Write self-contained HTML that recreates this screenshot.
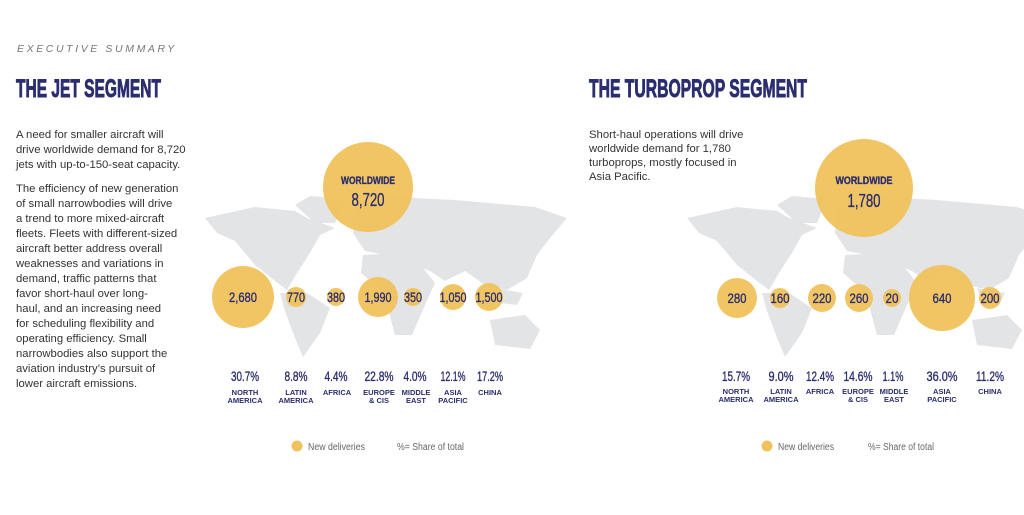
<!DOCTYPE html>
<html><head><meta charset="utf-8"><style>
html,body{margin:0;padding:0;background:#fff;width:1024px;height:515px;overflow:hidden}
svg{display:block}
.h{font-family:"Liberation Sans",sans-serif;font-weight:bold;fill:#2b2d6e;stroke:#2b2d6e;stroke-width:0.9}
.b{font-family:"Liberation Sans",sans-serif;font-size:11.3px;fill:#333}
.n{font-family:"Liberation Sans",sans-serif;fill:#2b2d6e;text-anchor:middle;stroke:#2b2d6e;stroke-width:0.35}
.l{font-family:"Liberation Sans",sans-serif;font-weight:bold;font-size:7.5px;fill:#2b2d6e;text-anchor:middle}
.g{font-family:"Liberation Sans",sans-serif;font-size:10px;fill:#666}
</style></head><body>
<svg width="1024" height="515" viewBox="0 0 1024 515">
<defs>
<g id="map" fill="#e3e4e6">
<path d="M10,25 L60,14 L100,18 L112,25 L140,35 L125,42 L115,60 L102,80 L92,97 L80,88 L60,72 L40,48 L22,40 Z"/>
<path d="M100,12 L115,3 L150,6 L140,30 L120,30 Z"/>
<path d="M85,100 L112,100 L135,115 L125,140 L108,164 L100,145 L90,118 Z"/>
<path d="M160,15 L200,4 L260,7 L340,14 L372,25 L355,45 L342,62 L332,85 L312,97 L290,92 L270,78 L250,88 L235,78 L210,68 L190,62 L170,58 L158,40 Z"/>
<path d="M168,62 L205,60 L228,75 L240,90 L230,112 L217,142 L200,142 L192,112 L180,92 L166,80 Z"/>
<path d="M295,127 L330,122 L345,137 L335,156 L300,152 Z"/>
<path d="M300,95 L328,100 L322,112 L305,110 Z"/>
</g>
</defs>
<text x="17" y="52" font-family="Liberation Sans,sans-serif" font-style="italic" font-size="10.5" letter-spacing="2.6" fill="#777">EXECUTIVE SUMMARY</text>
<text x="16" y="97" class="h" font-size="25" textLength="145" lengthAdjust="spacingAndGlyphs">THE JET SEGMENT</text>
<text x="589" y="97" class="h" font-size="25" textLength="218" lengthAdjust="spacingAndGlyphs">THE TURBOPROP SEGMENT</text>
<g class="b">
<text x="16" y="138">A need for smaller aircraft will</text>
<text x="16" y="153">drive worldwide demand for 8,720</text>
<text x="16" y="168">jets with up-to-150-seat capacity.</text>
<text x="16" y="192">The efficiency of new generation</text>
<text x="16" y="207">of small narrowbodies will drive</text>
<text x="16" y="222">a trend to more mixed-aircraft</text>
<text x="16" y="237">fleets. Fleets with different-sized</text>
<text x="16" y="252">aircraft better address overall</text>
<text x="16" y="267">weaknesses and variations in</text>
<text x="16" y="282">demand, traffic patterns that</text>
<text x="16" y="297">favor short-haul over long-</text>
<text x="16" y="312">haul, and an increasing need</text>
<text x="16" y="327">for scheduling flexibility and</text>
<text x="16" y="342">operating efficiency. Small</text>
<text x="16" y="357">narrowbodies also support the</text>
<text x="16" y="372">aviation industry’s pursuit of</text>
<text x="16" y="387">lower aircraft emissions.</text>
<text x="589" y="138">Short-haul operations will drive</text>
<text x="589" y="152">worldwide demand for 1,780</text>
<text x="589" y="166">turboprops, mostly focused in</text>
<text x="589" y="180">Asia Pacific.</text>
</g>
<use href="#map" transform="translate(195,193)"/>
<use href="#map" transform="translate(677,193)"/>
<g fill="#f0c25c" fill-opacity="0.95">
<circle cx="368" cy="187" r="45"/><circle cx="243" cy="297" r="31"/><circle cx="296" cy="297" r="10"/>
<circle cx="336" cy="297" r="9"/><circle cx="378" cy="297" r="20"/><circle cx="413" cy="297" r="9"/>
<circle cx="453" cy="297" r="13"/><circle cx="489" cy="297" r="14"/>
<circle cx="864" cy="188" r="49"/><circle cx="737" cy="298" r="20"/><circle cx="780" cy="298" r="10"/>
<circle cx="822" cy="298" r="14"/><circle cx="859" cy="298" r="14"/><circle cx="892" cy="298" r="9"/>
<circle cx="942" cy="298" r="33"/><circle cx="990" cy="298" r="11"/>
</g>
<g class="n">
<text x="368" y="184" font-size="11" font-weight="bold" textLength="54" lengthAdjust="spacingAndGlyphs">WORLDWIDE</text>
<text x="368" y="206" font-size="18" textLength="33" lengthAdjust="spacingAndGlyphs">8,720</text>
<text x="864" y="184" font-size="11" font-weight="bold" textLength="57" lengthAdjust="spacingAndGlyphs">WORLDWIDE</text>
<text x="864" y="207" font-size="18" textLength="33" lengthAdjust="spacingAndGlyphs">1,780</text>
<g font-size="14">
<text x="243" y="302" textLength="28" lengthAdjust="spacingAndGlyphs">2,680</text>
<text x="296" y="302" textLength="18" lengthAdjust="spacingAndGlyphs">770</text>
<text x="336" y="302" textLength="18" lengthAdjust="spacingAndGlyphs">380</text>
<text x="378" y="302" textLength="27" lengthAdjust="spacingAndGlyphs">1,990</text>
<text x="413" y="302" textLength="18" lengthAdjust="spacingAndGlyphs">350</text>
<text x="453" y="302" textLength="27" lengthAdjust="spacingAndGlyphs">1,050</text>
<text x="489" y="302" textLength="27" lengthAdjust="spacingAndGlyphs">1,500</text>
<text x="737" y="303" textLength="19" lengthAdjust="spacingAndGlyphs">280</text>
<text x="780" y="303" textLength="19" lengthAdjust="spacingAndGlyphs">160</text>
<text x="822" y="303" textLength="19" lengthAdjust="spacingAndGlyphs">220</text>
<text x="859" y="303" textLength="19" lengthAdjust="spacingAndGlyphs">260</text>
<text x="892" y="303" textLength="13" lengthAdjust="spacingAndGlyphs">20</text>
<text x="942" y="303" textLength="19" lengthAdjust="spacingAndGlyphs">640</text>
<text x="990" y="303" textLength="19" lengthAdjust="spacingAndGlyphs">200</text>
</g>
<g font-size="14">
<text x="245" y="381" textLength="28" lengthAdjust="spacingAndGlyphs">30.7%</text>
<text x="296" y="381" textLength="23" lengthAdjust="spacingAndGlyphs">8.8%</text>
<text x="336" y="381" textLength="23" lengthAdjust="spacingAndGlyphs">4.4%</text>
<text x="379" y="381" textLength="29" lengthAdjust="spacingAndGlyphs">22.8%</text>
<text x="415" y="381" textLength="23" lengthAdjust="spacingAndGlyphs">4.0%</text>
<text x="453" y="381" textLength="25" lengthAdjust="spacingAndGlyphs">12.1%</text>
<text x="490" y="381" textLength="26" lengthAdjust="spacingAndGlyphs">17.2%</text>
<text x="736" y="381" textLength="28" lengthAdjust="spacingAndGlyphs">15.7%</text>
<text x="781" y="381" textLength="25" lengthAdjust="spacingAndGlyphs">9.0%</text>
<text x="820" y="381" textLength="28" lengthAdjust="spacingAndGlyphs">12.4%</text>
<text x="858" y="381" textLength="29" lengthAdjust="spacingAndGlyphs">14.6%</text>
<text x="893" y="381" textLength="21" lengthAdjust="spacingAndGlyphs">1.1%</text>
<text x="942" y="381" textLength="31" lengthAdjust="spacingAndGlyphs">36.0%</text>
<text x="990" y="381" textLength="28" lengthAdjust="spacingAndGlyphs">11.2%</text>
</g>
</g>
<g class="l">
<text x="245" y="395">NORTH</text><text x="245" y="403">AMERICA</text>
<text x="296" y="395">LATIN</text><text x="296" y="403">AMERICA</text>
<text x="337" y="395">AFRICA</text>
<text x="379" y="395">EUROPE</text><text x="379" y="403">&amp; CIS</text>
<text x="416" y="395">MIDDLE</text><text x="416" y="403">EAST</text>
<text x="453" y="395">ASIA</text><text x="453" y="403">PACIFIC</text>
<text x="490" y="395">CHINA</text>
<text x="736" y="394">NORTH</text><text x="736" y="402">AMERICA</text>
<text x="781" y="394">LATIN</text><text x="781" y="402">AMERICA</text>
<text x="820" y="394">AFRICA</text>
<text x="858" y="394">EUROPE</text><text x="858" y="402">&amp; CIS</text>
<text x="894" y="394">MIDDLE</text><text x="894" y="402">EAST</text>
<text x="942" y="394">ASIA</text><text x="942" y="402">PACIFIC</text>
<text x="990" y="394">CHINA</text>
</g>
<circle cx="297" cy="446" r="5.5" fill="#f0c25c"/>
<text x="308" y="450" class="g" textLength="57" lengthAdjust="spacingAndGlyphs">New deliveries</text>
<text x="397" y="450" class="g" textLength="67" lengthAdjust="spacingAndGlyphs">%= Share of total</text>
<circle cx="767" cy="446" r="5.5" fill="#f0c25c"/>
<text x="778" y="450" class="g" textLength="56" lengthAdjust="spacingAndGlyphs">New deliveries</text>
<text x="868" y="450" class="g" textLength="66" lengthAdjust="spacingAndGlyphs">%= Share of total</text>
</svg>
</body></html>
